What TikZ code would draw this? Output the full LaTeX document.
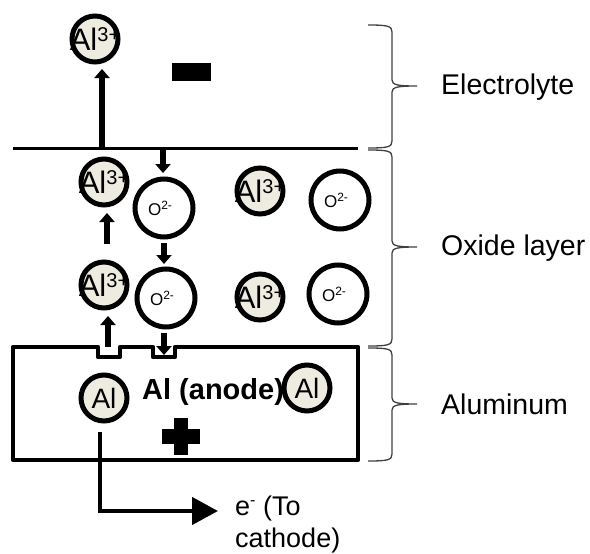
\documentclass[tikz,border=0pt]{standalone}
\usepackage{fontspec}
\setmainfont{Liberation Sans}
\usetikzlibrary{arrows.meta}
\definecolor{alfill}{HTML}{EEECE1}
\definecolor{bracecol}{HTML}{404040}
\newcommand{\AlIIItext}{{\fontsize{31}{31}\selectfont Al\raisebox{9pt}{\fontsize{20}{20}\selectfont 3+}}}
\newcommand{\OIItext}{{\fontsize{17}{17}\selectfont O\raisebox{6pt}{\fontsize{12}{12}\selectfont 2-}}}
\begin{document}
\begin{tikzpicture}[x=1pt,y=-1pt,
  alion/.style={circle, draw=black, line width=5pt, fill=alfill, minimum size=46pt, inner sep=0pt},
  oion/.style={circle, draw=black, line width=5pt, fill=white, minimum size=58pt, inner sep=0pt},
  bigarrow/.style={line width=5.5pt, -{Triangle[width=15pt,length=9pt]}},
  label text/.style={font=\fontsize{28.5}{32}\selectfont, anchor=west, inner sep=0pt},
  bracestyle/.style={draw=bracecol, line width=1.3pt}
]
\useasboundingbox (0,0) rectangle (590,554);

% electrolyte / oxide boundary
\coordinate (bl) at (13,148);
\coordinate (br) at (358,148);
\draw[line width=3pt] (bl) -- (br);

% minus sign
\fill (172,63) rectangle (211,81);

% ions
\node[alion, label={center:\AlIIItext}] (a0) at (95,39) {};
\node[alion, label={center:\AlIIItext}] (a1) at (104,182) {};
\node[oion, label={[xshift=-4pt]center:\OIItext}] (o1) at (164,208) {};
\node[alion, label={center:\AlIIItext}] (a2) at (260,191) {};
\node[oion, label={[xshift=-4pt]center:\OIItext}] (o2) at (340,200) {};
\node[alion, label={center:\AlIIItext}] (a3) at (104,285) {};
\node[oion, label={[xshift=-4pt]center:\OIItext}] (o3) at (166,298) {};
\node[alion, label={center:\AlIIItext}] (a4) at (260,297) {};
\node[oion, label={[xshift=-4pt]center:\OIItext}] (o4) at (338,294) {};

% anode body with notches
\draw[line width=4.2pt, line join=round] (13,347) -- (98,347) -- (98,357) -- (120,357) -- (120,347)
  -- (153,347) -- (153,357) -- (175,357) -- (175,347) -- (358,347) -- (358,460) -- (13,460) -- cycle;

% plus sign
\fill (162,429) rectangle (200,444);
\fill (174,418) rectangle (188,455);

% Al atoms and anode label
\node[alion, label={center:{\fontsize{28}{28}\selectfont Al}}] (al1) at (104,398) {};
\node[font=\fontsize{29}{29}\selectfont\bfseries, anchor=west, inner sep=0pt] (anode) at (142,392) {Al (anode)};
\node[alion, label={center:{\fontsize{28}{28}\selectfont Al}}] (al2) at (307,388) {};

% arrows (ion motion)
\coordinate (t0) at (102,150);
\coordinate (h0) at (102,69);
\draw[bigarrow] (t0) -- (h0);
\coordinate (t1) at (163,150);
\coordinate (h1) at (163,173);
\draw[bigarrow] (t1) -- (h1);
\coordinate (t2) at (107,244);
\coordinate (h2) at (107,213);
\draw[bigarrow] (t2) -- (h2);
\coordinate (t3) at (164,243);
\coordinate (h3) at (164,264);
\draw[bigarrow] (t3) -- (h3);
\coordinate (t4) at (108,347);
\coordinate (h4) at (108,316);
\draw[bigarrow] (t4) -- (h4);
\coordinate (t5) at (164,333);
\coordinate (h5) at (164,355);
\draw[bigarrow] (t5) -- (h5);

% electron path
\coordinate (es) at (100,432);
\coordinate (ec) at (100,511);
\coordinate (eh) at (218,511);
\draw[line width=4.5pt, -{Triangle[width=27pt,length=26pt]}] (es) -- (ec) -- (eh);
\node[font=\fontsize{27}{32}\selectfont, anchor=north west, align=left, inner sep=0pt] (elab) at (235,496)
  {e\raisebox{10pt}{\fontsize{16}{16}\selectfont -} (To\\cathode)};

% braces
\draw[bracestyle] (368,25) .. controls (388,25) and (392,26) .. (392,32) -- (392,80)
  .. controls (392,85) and (398,86) .. (417,86) .. controls (398,86) and (392,87) .. (392,92)
  -- (392,141) .. controls (392,147) and (388,148) .. (368,148);
\draw[bracestyle] (368,150) .. controls (388,150) and (392,151) .. (392,157) -- (392,241)
  .. controls (392,246) and (398,247) .. (417,247) .. controls (398,247) and (392,248) .. (392,253)
  -- (392,339) .. controls (392,345) and (388,346) .. (368,346);
\draw[bracestyle] (368,348) .. controls (388,348) and (392,349) .. (392,355) -- (392,398)
  .. controls (392,403) and (398,404) .. (417,404) .. controls (398,404) and (392,405) .. (392,410)
  -- (392,454) .. controls (392,460) and (388,461) .. (368,461);

% layer labels
\node[label text] (lel) at (441,87) {Electrolyte};
\node[label text] (lox) at (441,248) {Oxide layer};
\node[label text] (lal) at (441,404) {Aluminum};
\end{tikzpicture}
\end{document}
